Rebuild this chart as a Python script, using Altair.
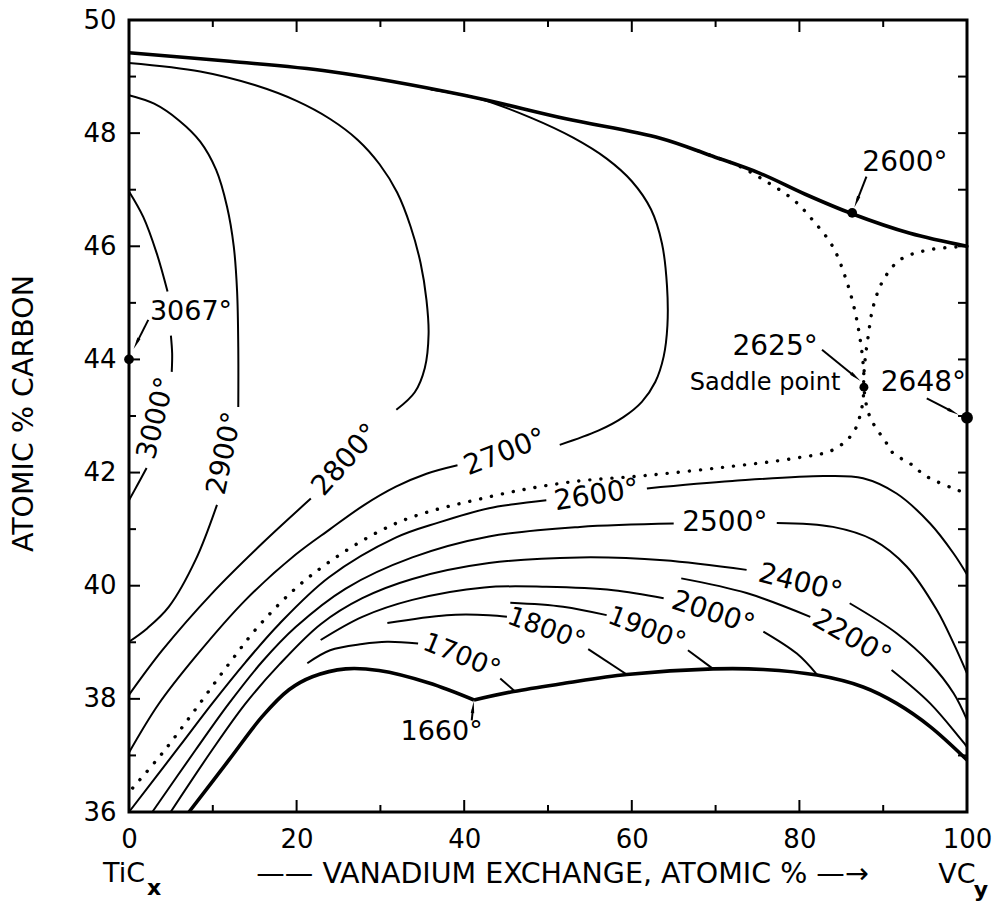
import math
import altair as alt
import pandas as pd

W, H = 838, 792          # plot area in pixels
X_DOM = [0, 100]
Y_DOM = [36, 50]
FONT = "DejaVu Sans"

# ---- traced isotherms: (vanadium exchange, atomic %) , (carbon, atomic %) ----
top_boundary = [(0, 49.42), (12, 49.27), (24, 49.09), (40, 48.67), (52, 48.26),
                (63.4, 47.91), (69.3, 47.61), (75.3, 47.29), (80.7, 46.92),
                (86.2, 46.58), (93.2, 46.23), (100, 46.0)]
solidus_left = [(7.16, 36.0), (11.93, 36.92), (15.91, 37.69), (19.09, 38.16),
                (21.88, 38.39), (25.86, 38.53), (29.83, 38.50), (35.8, 38.28),
                (41.17, 37.98)]
solidus_right = [(41.17, 37.98), (45.9, 38.13), (51.8, 38.27), (59.4, 38.43),
                 (69.7, 38.53), (75.7, 38.52), (82.1, 38.42), (87.6, 38.21),
                 (91.6, 37.92), (95.6, 37.51), (100, 36.92)]

iso_3000_a = [(0, 46.97), (1.7, 46.52), (3.3, 45.88), (4.6, 45.2)]
iso_3000_b = [(5.0, 44.42), (5.15, 44.1), (5.1, 43.78)]
iso_3000_c = [(2.1, 42.08), (1.0, 41.78), (0, 41.51)]
iso_2900_a = [(0, 48.67), (3, 48.52), (6, 48.22), (8.5, 47.85), (10.4, 47.35),
              (11.7, 46.7), (12.5, 46.0), (12.9, 45.2), (13.04, 44.2), (13.04, 43.16)]
iso_2900_b = [(10.5, 41.43), (7.96, 40.46), (4.77, 39.63), (2.2, 39.25), (0, 39.01)]
iso_2800_a = [(0, 49.24), (8.5, 49.09), (15, 48.85), (20, 48.57), (24, 48.25),
              (27.3, 47.88), (29.9, 47.45), (32, 46.95), (33.6, 46.35), (34.8, 45.7),
              (35.5, 45.05), (35.75, 44.45), (35.3, 43.85), (34.1, 43.42), (31.9, 43.11)]
iso_2800_b = [(21.7, 41.54), (15.91, 40.75), (9.94, 39.87), (3.98, 38.86), (0, 38.07)]
iso_2700_a = [(36, 48.77), (42, 48.6), (48, 48.27), (53, 47.92), (57, 47.55),
              (60, 47.15), (62.3, 46.65), (63.6, 46.05), (64.2, 45.3), (64.25, 44.6),
              (63.8, 44.05), (62.8, 43.6), (61.2, 43.25), (59, 42.98), (56, 42.74),
              (51.4, 42.49)]
iso_2700_b = [(39.2, 42.13), (35.5, 41.98), (31.85, 41.75), (28, 41.42), (24, 41.0),
              (19.89, 40.55), (13.92, 39.75), (7.96, 38.75), (3.5, 37.9), (0, 37.05)]
iso_2600_a = [(0, 36.0), (5.97, 37.15), (9.94, 37.92), (13.92, 38.65), (17.9, 39.32),
              (23.87, 40.15), (31.82, 40.85), (37, 41.12), (42.96, 41.37),
              (45.9, 41.44), (49.8, 41.51)]
iso_2600_b = [(61.8, 41.72), (72, 41.85), (82.9, 41.94), (87.6, 41.90), (91.6, 41.63),
              (95.6, 41.10), (98.4, 40.57), (100, 40.2)]
iso_2500_a = [(2.78, 36.0), (7.96, 37.10), (11.93, 37.92), (15.91, 38.66),
              (19.89, 39.27), (25.86, 39.95), (33.81, 40.5), (42.96, 40.87),
              (53.8, 41.04), (65, 41.10)]
iso_2500_b = [(77.3, 41.11), (84, 41.04), (88.8, 40.81), (92.8, 40.34), (96.4, 39.57),
              (98.4, 38.98), (100, 38.45)]
iso_2400_a = [(4.97, 36.0), (9.94, 37.10), (13.92, 37.92), (17.9, 38.6), (22.87, 39.32),
              (27.84, 39.78), (33.81, 40.12), (42.96, 40.40), (53.8, 40.50),
              (63.8, 40.45), (73.7, 40.28)]
iso_2400_b = [(86.0, 39.69), (91.6, 39.16), (95.6, 38.63), (98.4, 38.10), (100, 37.63)]
iso_2200_a = [(65.9, 40.13), (73.7, 39.87), (81.3, 39.45)]
iso_2200_b = [(91.0, 38.51), (95.6, 37.92), (100, 37.15)]
iso_2000_a = [(22.87, 39.04), (27.84, 39.45), (33.81, 39.75), (42.4, 39.97),
              (49.8, 39.98), (57.8, 39.92), (63.8, 39.78)]
iso_2000_b = [(75.7, 39.19), (79.7, 38.80), (82.1, 38.43)]
iso_1900_a = [(45.5, 39.70), (51.8, 39.63), (57, 39.48)]
iso_1900_b = [(66.7, 38.86), (69.7, 38.53)]
iso_1800_a = [(30.83, 39.34), (37.9, 39.48), (42.96, 39.48), (45.1, 39.45)]
iso_1800_b = [(54.8, 38.88), (59.4, 38.43)]
iso_1700_a = [(21.28, 38.63), (24, 38.86), (27.84, 38.97), (30.8, 39.01), (34.5, 38.98)]
iso_1700_b = [(44.3, 38.36), (46.0, 38.14)]

# dotted isotherm through the saddle point
saddle_left = [(68, 47.68), (70.5, 47.55), (72.9, 47.41), (76.1, 47.14), (79.3, 46.82),
               (81.6, 46.46), (84, 45.99), (85.6, 45.40), (86.6, 44.87), (87.2, 44.40),
               (87.6, 43.93), (87.7, 43.51), (87.4, 43.11), (86.4, 42.7), (84, 42.4),
               (79.3, 42.25), (71.3, 42.1), (61.8, 41.95), (52.5, 41.83), (42.96, 41.57),
               (31.82, 41.1), (21.88, 40.2), (15.91, 39.36), (11.93, 38.62),
               (7.96, 37.82), (3.98, 37.04), (0, 36.35)]
saddle_right = [(100, 46.0), (95.2, 45.93), (92, 45.76), (90, 45.40), (88.8, 44.93),
                (88.2, 44.40), (87.8, 43.93), (87.7, 43.51), (88.4, 42.99), (90.4, 42.52),
                (91.2, 42.34), (93.2, 42.16), (95.2, 41.93), (99.4, 41.66), (100, 41.63)]

# isotherm labels: text, x, y, rotation, font size
label_text = ["3067°", "3000°", "2900°", "2800°", "2700°", "2600°", "2500°", "2400°",
              "2200°", "2000°", "1900°", "1800°", "1700°", "1660°", "2600°", "2625°",
              "Saddle point", "2648°"]
label_x = [7.4, 3.3, 11.46, 25.9, 44.9, 55.8, 71.1, 80.1, 86.2, 69.7, 61.8, 49.8, 39.7,
           37.3, 92.6, 77.1, 75.9, 94.8]
label_y = [44.84, 42.96, 42.34, 42.22, 42.35, 41.59, 41.11, 40.04, 39.07, 39.51, 39.23,
           39.23, 38.75, 37.41, 47.47, 44.22, 43.58, 43.58]
label_angle = [0, 284, 282, 312, 339, 351, 0, 14, 30, 18, 21, 20, 22, 0, 0, 0, 0, 0]
label_size = [27, 27.5, 27.5, 28, 28, 28, 28, 28, 28, 28, 26.5, 26.5, 26.5, 27, 28, 28,
              24, 28]

# marked points: 3067° maximum, 2600° on boundary, 2625° saddle, 2648° on VC side
point_x = [0, 86.3, 87.7, 100]
point_y = [44.0, 46.59, 43.51, 42.97]
point_size = [95, 95, 80, 140]

# pointer arrows: tail -> tip
arrow_tail = [(2.3, 44.70), (88.0, 47.23), (82.7, 44.17), (95.2, 43.31), (40.9, 37.62)]
arrow_tip = [(0.6, 44.2), (86.6, 46.70), (87.2, 43.63), (98.9, 43.03), (41.12, 37.94)]

x_tick_labels = [0, 20, 40, 60, 80, 100]
y_tick_labels = [36, 38, 40, 42, 44, 46, 48, 50]
x_major = [0, 20, 40, 60, 80, 100]
x_minor = [10, 30, 50, 70, 90]
y_major = [36, 38, 40, 42, 44, 46, 48, 50]
y_minor = [37, 39, 41, 43, 45, 47, 49]
y_right = [37, 38, 39, 40, 41, 42, 43, 44, 45, 46, 47, 48, 49]

thin_segments = {
    "3000a": iso_3000_a, "3000b": iso_3000_b, "3000c": iso_3000_c,
    "2900a": iso_2900_a, "2900b": iso_2900_b,
    "2800a": iso_2800_a, "2800b": iso_2800_b,
    "2700a": iso_2700_a, "2700b": iso_2700_b,
    "2600a": iso_2600_a, "2600b": iso_2600_b,
    "2500a": iso_2500_a, "2500b": iso_2500_b,
    "2400a": iso_2400_a, "2400b": iso_2400_b,
    "2200a": iso_2200_a, "2200b": iso_2200_b,
    "2000a": iso_2000_a, "2000b": iso_2000_b,
    "1900a": iso_1900_a, "1900b": iso_1900_b,
    "1800a": iso_1800_a, "1800b": iso_1800_b,
    "1700a": iso_1700_a, "1700b": iso_1700_b,
}
thick_segments = {"top": top_boundary, "solL": solidus_left, "solR": solidus_right}
dotted_segments = {"sadL": saddle_left, "sadR": saddle_right}


def to_frame(segments):
    rows = []
    for name, pts in segments.items():
        for i, (x, y) in enumerate(pts):
            rows.append({"seg": name, "i": i, "x": x, "y": y})
    return pd.DataFrame(rows)


xs = alt.Scale(domain=X_DOM, nice=False, zero=False)
ys = alt.Scale(domain=Y_DOM, nice=False, zero=False)

x_axis = alt.Axis(values=x_tick_labels, ticks=False, domain=False, grid=False,
                  labelFont=FONT, labelFontSize=26, labelColor="black", labelPadding=14,
                  labelFlush=False, labelOverlap=False,
                  title="—— VANADIUM EXCHANGE, ATOMIC % —→", titleFont=FONT,
                  titleFontSize=28.5, titleFontWeight="normal", titleColor="black",
                  titleX=433, titleY=61, titleAlign="center", titleBaseline="middle")
y_axis = alt.Axis(values=y_tick_labels, ticks=False, domain=False, grid=False,
                  labelFont=FONT, labelFontSize=26, labelColor="black", labelPadding=13,
                  labelFlush=False, labelOverlap=False,
                  title="ATOMIC % CARBON", titleFont=FONT, titleFontSize=28.5,
                  titleFontWeight="normal", titleColor="black", titleAngle=270,
                  titleX=-106, titleY=393, titleAlign="center", titleBaseline="middle")


def X(field="x"):
    return alt.X(f"{field}:Q", scale=xs, axis=x_axis)


def Y(field="y"):
    return alt.Y(f"{field}:Q", scale=ys, axis=y_axis)


def curve_layer(df, **mark):
    return alt.Chart(df).mark_line(color="black", interpolate="catmull-rom", **mark).encode(
        x=X(), y=Y(), detail="seg:N", order="i:Q",
    )


thin = curve_layer(to_frame(thin_segments), strokeWidth=2)
thick = curve_layer(to_frame(thick_segments), strokeWidth=3.6)
dotted = curve_layer(to_frame(dotted_segments), strokeWidth=3.4,
                     strokeDash=[0.1, 11], strokeCap="round")

labels_df = pd.DataFrame({"t": label_text, "x": label_x, "y": label_y,
                          "a": label_angle, "fs": label_size})
labels = alt.Chart(labels_df).mark_text(
    font=FONT, color="black", align="center", baseline="middle").encode(
    x=X(), y=Y(),
    text="t:N",
    angle=alt.Angle("a:Q", scale=None),
    size=alt.Size("fs:Q", scale=None),
)

points_df = pd.DataFrame({"x": point_x, "y": point_y, "s": point_size})
points = alt.Chart(points_df).mark_point(
    shape="circle", filled=True, color="black", opacity=1).encode(
    x=X(), y=Y(), size=alt.Size("s:Q", scale=None),
)

# arrow shafts and heads (head angle measured clockwise from "up" in pixel space)
HEAD_LEN = 14
shaft_rows, head_rows = [], []
for (tx, ty), (hx, hy) in zip(arrow_tail, arrow_tip):
    dxp = (hx - tx) * W / (X_DOM[1] - X_DOM[0])
    dyp = -(hy - ty) * H / (Y_DOM[1] - Y_DOM[0])
    n = math.hypot(dxp, dyp)
    ux, uy = dxp / n, dyp / n
    ang = math.degrees(math.atan2(ux, -uy)) % 360
    cx = hx - ux * HEAD_LEN * 0.5 * (X_DOM[1] - X_DOM[0]) / W
    cy = hy + uy * HEAD_LEN * 0.5 * (Y_DOM[1] - Y_DOM[0]) / H
    shaft_rows.append({"x": tx, "y": ty, "x2": cx, "y2": cy})
    head_rows.append({"x": cx, "y": cy, "a": ang})

shafts = alt.Chart(pd.DataFrame(shaft_rows)).mark_rule(color="black", strokeWidth=2).encode(
    x=X(), y=Y(), x2="x2:Q", y2="y2:Q",
)
heads = alt.Chart(pd.DataFrame(head_rows)).mark_point(
    shape="wedge", filled=True, color="black", opacity=1, size=190).encode(
    x=X(), y=Y(), angle=alt.Angle("a:Q", scale=None),
)


# inward-pointing frame ticks
def x_ticks(vals, length, bottom=True):
    y0 = H if bottom else 0
    y1 = H - length if bottom else length
    return alt.Chart(pd.DataFrame({"x": vals})).mark_rule(color="black", strokeWidth=2).encode(
        x=X(), y=alt.value(y0), y2=alt.value(y1))


def y_ticks(vals, length, left=True):
    x0 = 0 if left else W
    x1 = length if left else W - length
    return alt.Chart(pd.DataFrame({"y": vals})).mark_rule(color="black", strokeWidth=2).encode(
        y=Y(), x=alt.value(x0), x2=alt.value(x1))


ticks = [
    x_ticks(x_major, 12, True), x_ticks(x_minor, 7, True),
    x_ticks(x_major, 12, False), x_ticks(x_minor, 7, False),
    y_ticks(y_major, 11, True), y_ticks(y_minor, 7, True),
    y_ticks(y_right, 9, False),
]


# end-member labels under the axis
def end_label(xv, text, dx, ypix, size, weight="normal"):
    return alt.Chart(pd.DataFrame({"x": [xv], "t": [text]})).mark_text(
        font=FONT, fontSize=size, fontWeight=weight, color="black",
        align="center", baseline="middle", dx=dx).encode(
        x=X(), y=alt.value(ypix), text="t:N")


ends = [
    end_label(0, "TiC", -5, H + 62, 27),
    end_label(0, "x", 25, H + 76, 22, "bold"),
    end_label(100, "VC", -10, H + 63, 27),
    end_label(100, "y", 14, H + 78, 22, "bold"),
]

chart = alt.layer(thin, thick, dotted, *ticks, shafts, heads, points, labels, *ends).properties(
    width=W, height=H,
    autosize=alt.AutoSizeParams(type="none"),
    padding={"left": 129, "top": 20, "right": 26, "bottom": 89},
    background="white",
).configure_view(stroke="black", strokeWidth=3)

chart.save("out.html", embed_options={"renderer": "svg", "actions": False})
